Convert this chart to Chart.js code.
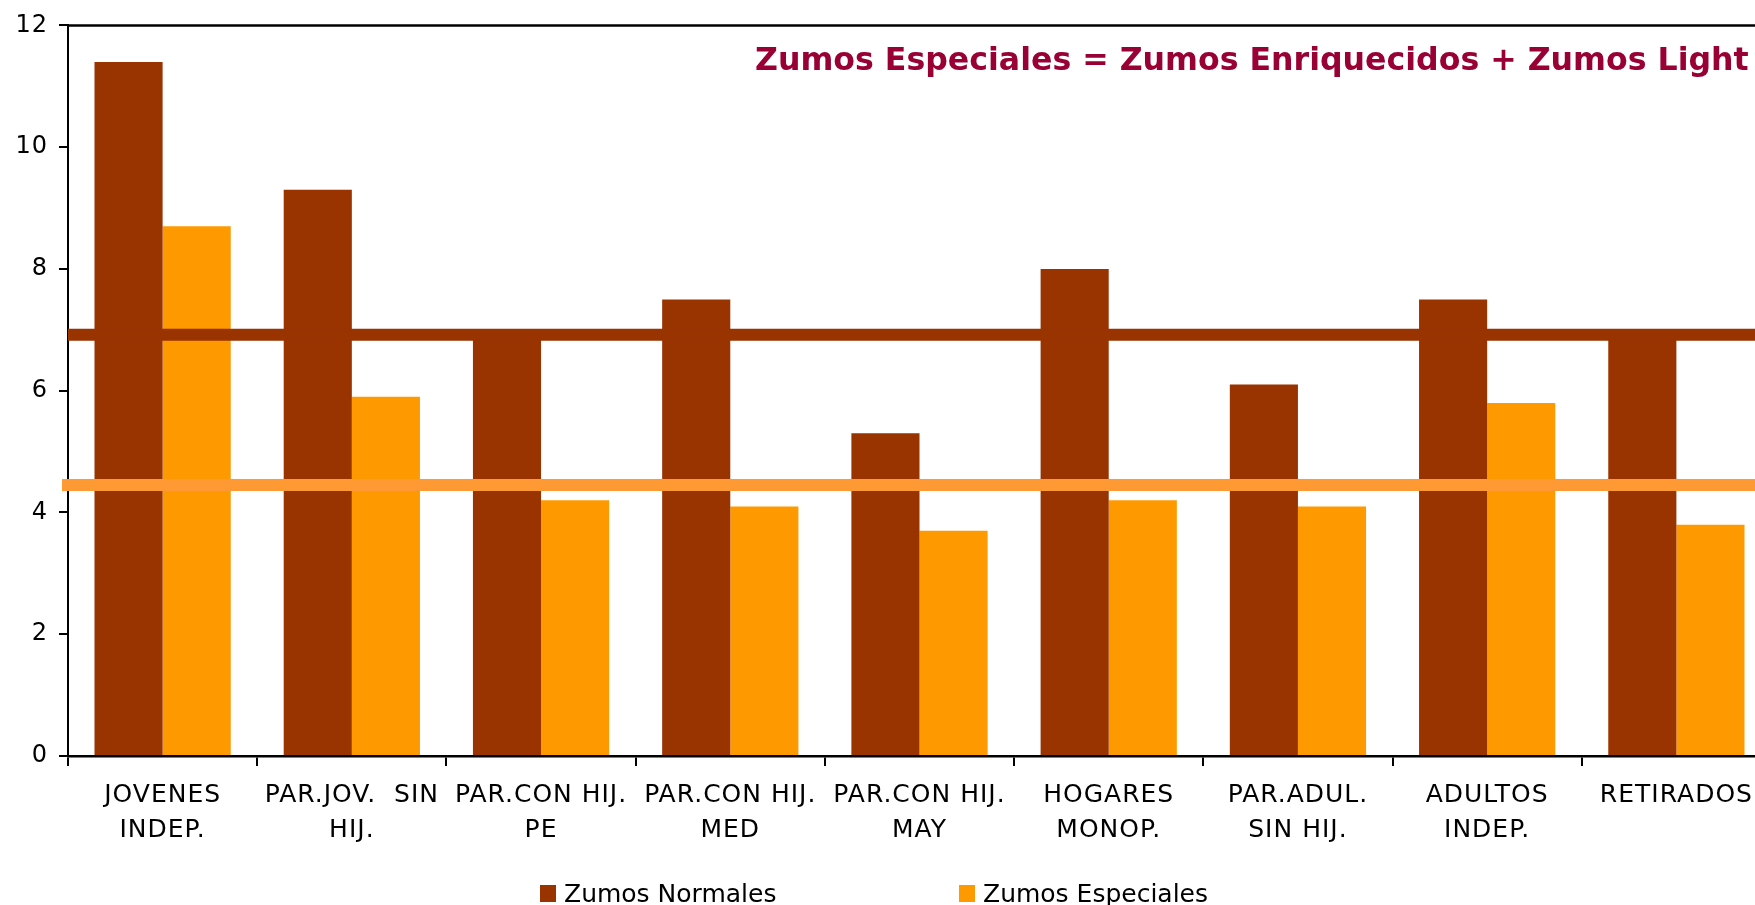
<!DOCTYPE html>
<html>
<head>
<meta charset="utf-8">
<script src="https://cdn.jsdelivr.net/npm/chart.js@4"></script>
<style>
  html, body { margin: 0; padding: 0; background: #fff; overflow: hidden; }
  #wrap { width: 1790px; height: 905px; }
</style>
</head>
<body>
<div id="wrap"><canvas id="zumosChart"></canvas></div>
<script>
// DATA
const categories = [
    ['JOVENES', 'INDEP.'],
    ['PAR.JOV.  SIN', 'HIJ.'],
    ['PAR.CON HIJ.', 'PE'],
    ['PAR.CON HIJ.', 'MED'],
    ['PAR.CON HIJ.', 'MAY'],
    ['HOGARES', 'MONOP.'],
    ['PAR.ADUL.', 'SIN HIJ.'],
    ['ADULTOS', 'INDEP.'],
    ['RETIRADOS']
]
const zumosNormales = [11.4, 9.3, 7.0, 7.5, 5.3, 8.0, 6.1, 7.5, 7.0]
const zumosEspeciales = [8.7, 5.9, 4.2, 4.1, 3.7, 4.2, 4.1, 5.8, 3.8]
const mediaNormales = 6.92
const mediaEspeciales = 4.45
const yTicks = [0, 2, 4, 6, 8, 10, 12]
const nota = 'Zumos Especiales = Zumos Enriquecidos + Zumos Light'

const DARK = '#993300'
const ORANGE = '#FF9900'
const FONT = '"DejaVu Sans", Verdana, sans-serif'

// horizontal average lines across the whole plot, above the bars
const mediaLines = {
    id: 'mediaLines',
    afterDatasetsDraw(chart) {
        const ctx = chart.ctx
        const area = chart.chartArea
        const y = chart.scales.y
        ctx.save()
        ctx.lineWidth = 12
        ctx.lineCap = 'butt'
        ;[[mediaNormales, DARK, 0], [mediaEspeciales, '#FF9933', 6]].forEach(([v, color, ext]) => {
            const py = y.getPixelForValue(v)
            ctx.strokeStyle = color
            ctx.beginPath()
            ctx.moveTo(area.left - ext, py)
            ctx.lineTo(area.right, py)
            ctx.stroke()
        })
        ctx.restore()
    }
}

// top frame line + note text + legend
const extras = {
    id: 'extras',
    beforeDraw(chart) {
        chart.ctx.letterSpacing = '1px'
    },
    afterDraw(chart) {
        const ctx = chart.ctx
        const area = chart.chartArea
        ctx.save()
        ctx.letterSpacing = '0px'
        ctx.strokeStyle = '#000'
        ctx.lineWidth = 2.5
        ctx.beginPath()
        ctx.moveTo(area.left, area.top)
        ctx.lineTo(area.right, area.top)
        ctx.stroke()

        ctx.fillStyle = '#990033'
        ctx.font = 'bold 31.6px ' + FONT
        ctx.textAlign = 'left'
        ctx.textBaseline = 'alphabetic'
        ctx.fillText(nota, 755, 70)

        ctx.font = '25px ' + FONT
        const items = [[chart.data.datasets[0], 540], [chart.data.datasets[1], 959]]
        items.forEach(([ds, x]) => {
            ctx.fillStyle = ds.backgroundColor
            ctx.fillRect(x, 885, 16, 17)
            ctx.fillStyle = '#000'
            ctx.fillText(ds.label, x + 24, 902)
        })
        ctx.restore()
    }
}

const chart = new Chart(document.getElementById('zumosChart'), {
    type: 'bar',
    data: {
        labels: categories,
        datasets: [
            { label: 'Zumos Normales', data: zumosNormales, backgroundColor: DARK },
            { label: 'Zumos Especiales', data: zumosEspeciales, backgroundColor: ORANGE }
        ]
    },
    options: {
        responsive: true,
        maintainAspectRatio: false,
        animation: false,
        layout: { padding: { top: 19, right: 19, left: 0, bottom: 0 } },
        datasets: { bar: { categoryPercentage: 0.72, barPercentage: 1 } },
        plugins: { legend: { display: false }, tooltip: { enabled: false } },
        scales: {
            x: {
                offset: true,
                grid: { offset: true, drawOnChartArea: false, color: '#000', lineWidth: 2, tickLength: 10 },
                border: { color: '#000', width: 2.5 },
                ticks: { color: '#000', font: { family: FONT, size: 25, lineHeight: 1.4 }, padding: 12, maxRotation: 0, autoSkip: false },
                afterFit(scale) { scale.height = 149 }
            },
            y: {
                min: 0,
                max: 12,
                afterBuildTicks(scale) { scale.ticks = yTicks.map(v => ({ value: v })) },
                grid: { drawOnChartArea: false, color: '#000', lineWidth: 2, tickLength: 9 },
                border: { color: '#000', width: 2 },
                ticks: { color: '#000', font: { family: FONT, size: 24 }, padding: 11 },
                afterFit(scale) { scale.width = 68 }
            }
        }
    },
    plugins: [mediaLines, extras]
})
</script>
</body>
</html>
